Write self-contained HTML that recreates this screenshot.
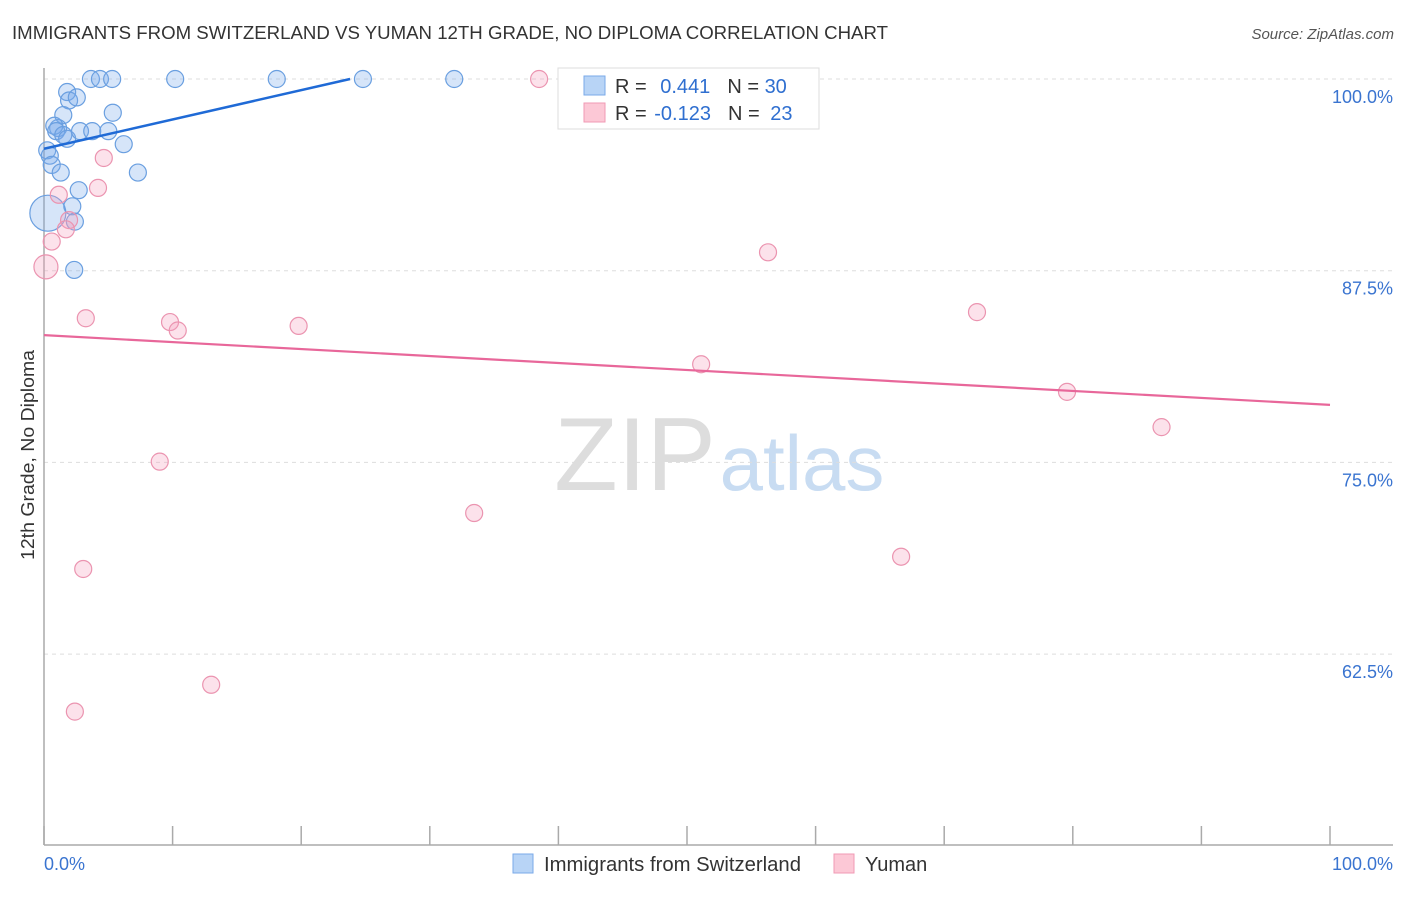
<!DOCTYPE html>
<html><head><meta charset="utf-8">
<style>
body{margin:0;background:#fff;font-family:"Liberation Sans",sans-serif;}
svg text{font-family:"Liberation Sans",sans-serif;}
</style></head>
<body>
<svg id="chart" width="1406" height="892" xmlns="http://www.w3.org/2000/svg">
<text x="12" y="39" font-size="18" fill="#333" textLength="876" lengthAdjust="spacingAndGlyphs">IMMIGRANTS FROM SWITZERLAND VS YUMAN 12TH GRADE, NO DIPLOMA CORRELATION CHART</text>
<text x="1394" y="39" font-size="15" fill="#555" text-anchor="end" font-style="italic">Source: ZipAtlas.com</text>
<text transform="translate(34,455) rotate(-90)" font-size="18" fill="#333" text-anchor="middle" textLength="210" lengthAdjust="spacingAndGlyphs">12th Grade, No Diploma</text>
<g>
<text x="635" y="490" font-size="104" fill="#ddd" text-anchor="middle" font-family="Liberation Serif,serif">ZIP</text>
<text x="802" y="490" font-size="78" fill="#c8dcf2" text-anchor="middle">atlas</text>
</g>
<g id="grid"></g><g id="axes"></g><g id="marks"></g>
<g>
<rect x="558" y="68" width="261" height="61" fill="#fff" stroke="#ddd"/>
<rect x="584" y="76" width="21" height="19" fill="#b8d4f6" stroke="#7aaae8"/>
<rect x="584" y="103" width="21" height="19" fill="#fcc8d6" stroke="#f09ab4"/>
<text x="615" y="93" font-size="20" fill="#333">R = <tspan fill="#2f6fd0" dx="8">0.441</tspan><tspan fill="#333" dx="17">N = </tspan><tspan fill="#2f6fd0">30</tspan></text>
<text x="615" y="120" font-size="20" fill="#333">R = <tspan fill="#2f6fd0" dx="2">-0.123</tspan><tspan fill="#333" dx="17">N = </tspan><tspan fill="#2f6fd0" dx="5">23</tspan></text>
</g>
<g>
<rect x="513" y="854" width="20" height="19" fill="#b8d4f6" stroke="#7aaae8"/>
<text x="544" y="871" font-size="20" fill="#333" textLength="257" lengthAdjust="spacingAndGlyphs">Immigrants from Switzerland</text>
<rect x="834" y="854" width="20" height="19" fill="#fcc8d6" stroke="#f09ab4"/>
<text x="865" y="871" font-size="20" fill="#333">Yuman</text>
</g>
</svg>
<script>
const yTicks=[100,87.5,75,62.5];
const yTickLabels=["100.0%","87.5%","75.0%","62.5%"];
const xTicks=[0,10,20,30,40,50,60,70,80,90,100];
const blueX=[3.65,4.35,5.3,10.2,18.1,24.8,31.9,1.8,1.95,2.55,1.5,5.35,1.1,0.8,0.95,1.5,1.8,2.8,3.75,5.0,6.2,0.25,0.45,0.6,1.3,7.3,2.7,2.2,2.4,2.35,0.3];
const blueY=[100,100,100,100,100,100,100,99.15,98.6,98.8,97.65,97.8,96.8,96.95,96.6,96.35,96.1,96.6,96.6,96.6,95.75,95.35,95.0,94.4,93.9,93.9,92.75,91.7,90.7,87.55,91.25];
const blueR=[8.5,8.5,8.5,8.5,8.5,8.5,8.5,8.5,8.5,8.5,8.5,8.5,8.5,8.5,8.5,8.5,8.5,8.5,8.5,8.5,8.5,8.5,8.5,8.5,8.5,8.5,8.5,8.5,8.5,8.5,18];
const pinkX=[38.5,4.65,4.2,1.15,1.95,1.7,0.6,0.15,56.3,3.25,9.8,10.4,19.8,72.55,51.1,79.55,86.9,9.0,33.45,3.05,66.65,13.0,2.4];
const pinkY=[100,94.85,92.9,92.45,90.8,90.2,89.4,87.75,88.7,84.4,84.15,83.6,83.9,84.8,81.4,79.6,77.3,75.05,71.7,68.05,68.85,60.5,58.75];
const pinkR=[8.5,8.5,8.5,8.5,8.5,8.5,8.5,12,8.5,8.5,8.5,8.5,8.5,8.5,8.5,8.5,8.5,8.5,8.5,8.5,8.5,8.5,8.5];
const blueTrend=[[0,95.45],[23.8,100]];
const pinkTrend=[[0,83.3],[100,78.75]];
const sx=v=>44+v*12.86, sy=v=>79+(100-v)*15.336;
const NS="http://www.w3.org/2000/svg";
function mk(tag,attrs,parent){const e=document.createElementNS(NS,tag);for(const k in attrs)e.setAttribute(k,attrs[k]);document.getElementById(parent).appendChild(e);return e;}
yTicks.forEach((t,i)=>{
 const l=mk('line',{x1:44,x2:1393,y1:sy(t),y2:sy(t),stroke:'#ddd','stroke-dasharray':'4,4'},'grid');
 
 
 const tx=mk('text',{x:1393,y:sy(t)+24,'font-size':18,fill:'#3a74d0','text-anchor':'end'},'grid');
 tx.textContent=yTickLabels[i];
 
 
});
const ya=mk('line',{x1:44,x2:44,y1:68,y2:845,stroke:'#aaa','stroke-width':1.5},'axes');


const xa=mk('line',{x1:44,x2:1393,y1:845,y2:845,stroke:'#aaa','stroke-width':1.5},'axes');


xTicks.forEach(t=>{const l=mk('line',{x1:sx(t),x2:sx(t),y1:826,y2:845,stroke:'#aaa','stroke-width':1.5},'axes');
 
 });
const x0=mk('text',{x:44,y:870,'font-size':18,fill:'#3a74d0'},'axes');x0.textContent='0.0%';


const x1=mk('text',{x:1393,y:870,'font-size':18,fill:'#3a74d0','text-anchor':'end'},'axes');x1.textContent='100.0%';


blueX.forEach((v,i)=>{const c=mk('circle',{cx:sx(v),cy:sy(blueY[i]),r:blueR[i],fill:'rgba(120,170,235,0.3)',stroke:'#6a9fe0','stroke-width':1.2},'marks');
 
 });
pinkX.forEach((v,i)=>{const c=mk('circle',{cx:sx(v),cy:sy(pinkY[i]),r:pinkR[i],fill:'rgba(245,160,190,0.3)',stroke:'#eb94b0','stroke-width':1.2},'marks');
 
 });
const bt=mk('line',{x1:sx(blueTrend[0][0]),y1:sy(blueTrend[0][1]),x2:sx(blueTrend[1][0]),y2:sy(blueTrend[1][1]),stroke:'#1f6ad6','stroke-width':2.5},'marks');


const pt=mk('line',{x1:sx(pinkTrend[0][0]),y1:sy(pinkTrend[0][1]),x2:sx(pinkTrend[1][0]),y2:sy(pinkTrend[1][1]),stroke:'#e8679a','stroke-width':2.2},'marks');


</script>
</body></html>
